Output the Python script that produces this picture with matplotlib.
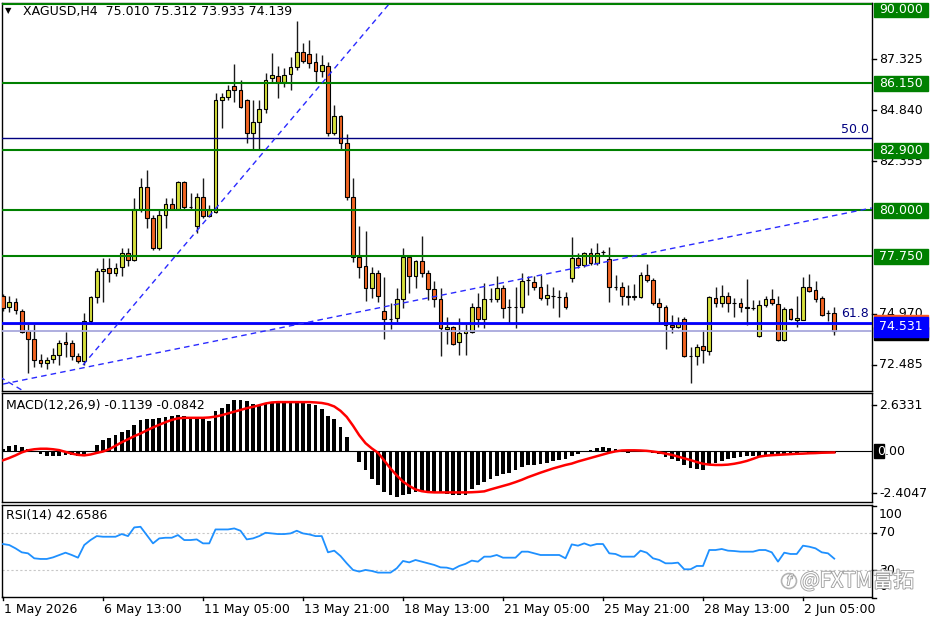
import numpy as np
import matplotlib
matplotlib.use("Agg")
import matplotlib.pyplot as plt
from matplotlib.patches import Rectangle, Ellipse
import matplotlib.patheffects as pe

# ---------------------------------------------------------------------------
# XAGUSD H4 candles
# ---------------------------------------------------------------------------
opens = [75.825, 75.291, 75.534, 75.097, 74.126, 73.738, 72.718, 72.573, 72.767, 72.961,
         73.592, 73.544, 72.913, 72.670, 74.611, 75.777, 77.039, 77.184, 76.942, 77.233,
         77.912, 77.573, 80.048, 81.116, 79.611, 78.155, 79.757, 80.291, 80.048, 81.359,
         80.145, 79.223, 80.631, 79.708, 79.903, 85.340, 85.485, 86.019, 85.825, 85.340,
         83.738, 84.272, 84.903, 86.408, 86.505, 86.213, 86.602, 86.942, 87.670, 87.573,
         87.184, 86.747, 86.990, 83.738, 84.563, 83.252, 80.631, 77.718, 77.282, 76.213,
         76.942, 75.097, 74.709, 74.757, 75.680, 77.718, 76.796, 77.524, 76.942, 76.165,
         75.680, 74.223, 74.320, 73.592, 74.029, 74.078, 75.291, 74.709, 75.680, 75.680,
         76.213, 75.291, 75.270, 75.291, 76.602, 76.505, 76.262, 75.728, 75.825, 75.800,
         75.777, 76.699, 77.670, 77.330, 77.912, 77.427, 77.961, 77.621, 76.262, 76.262,
         75.825, 75.800, 75.777, 76.845, 76.602, 75.485, 75.291, 74.417, 74.320, 74.709,
         72.913, 72.913, 73.398, 73.155, 75.728, 75.485, 75.825, 75.485, 75.485, 75.291,
         75.243, 73.883, 75.388, 75.680, 75.437, 73.689, 75.194, 74.660, 74.660, 76.262,
         76.116, 75.728, 75.000, 75.010]

highs = [75.922, 75.825, 75.728, 75.194, 74.514, 74.514, 73.010, 72.864, 73.301, 73.689,
         74.078, 73.689, 73.058, 75.000, 75.825, 77.184, 77.670, 77.670, 77.427, 78.155,
         78.155, 80.582, 81.553, 81.941, 79.757, 80.000, 80.582, 80.582, 81.407, 81.407,
         80.825, 80.825, 81.553, 80.243, 85.680, 85.680, 86.068, 87.087, 86.311, 85.388,
         85.340, 85.340, 86.650, 87.621, 86.990, 86.893, 87.427, 89.175, 88.107, 88.252,
         87.621, 87.524, 87.184, 85.097, 84.612, 83.689, 81.553, 79.223, 78.980, 77.233,
         77.087, 76.748, 75.485, 76.213, 78.155, 77.767, 77.573, 78.737, 77.087, 76.553,
         76.213, 74.806, 74.369, 74.757, 74.514, 75.485, 75.971, 76.456, 76.213, 76.796,
         76.359, 75.680, 76.262, 76.942, 76.796, 76.796, 76.845, 76.408, 76.262, 76.116,
         76.019, 78.689, 77.912, 77.961, 78.155, 78.398, 78.058, 78.204, 76.845, 76.505,
         76.359, 76.408, 76.990, 77.379, 76.699, 75.728, 75.388, 74.903, 74.806, 74.806,
         73.349, 73.495, 74.175, 75.825, 76.262, 76.359, 76.019, 75.728, 75.728, 76.650,
         75.631, 75.631, 75.825, 76.165, 75.825, 75.291, 75.243, 75.825, 76.748, 76.893,
         76.553, 75.825, 75.146, 75.312]

lows = [75.097, 75.049, 74.951, 74.029, 72.087, 72.378, 72.378, 72.281, 72.573, 72.476,
        72.864, 72.718, 72.573, 72.476, 74.514, 75.485, 75.534, 76.505, 76.796, 76.796,
        77.282, 77.524, 79.903, 79.126, 78.058, 78.058, 79.126, 80.000, 80.000, 80.000,
        80.048, 78.883, 79.611, 79.660, 79.854, 83.980, 85.340, 85.243, 84.951, 83.252,
        82.912, 82.912, 84.709, 86.213, 85.437, 85.971, 85.825, 86.796, 87.136, 86.893,
        86.165, 86.456, 83.592, 83.641, 82.912, 80.485, 77.476, 76.699, 75.583, 75.728,
        75.534, 73.738, 74.223, 74.563, 75.243, 75.971, 76.213, 76.748, 75.631, 75.291,
        72.913, 73.495, 73.447, 72.961, 72.961, 74.029, 74.320, 74.272, 75.534, 75.534,
        74.757, 74.514, 74.272, 75.000, 75.874, 76.116, 75.631, 75.388, 75.243, 74.806,
        75.194, 76.505, 77.184, 77.233, 77.330, 77.330, 77.815, 75.534, 76.116, 75.388,
        75.388, 75.631, 75.728, 76.505, 75.388, 74.563, 73.252, 74.029, 74.272, 72.864,
        71.602, 72.476, 72.573, 72.961, 75.291, 75.291, 75.049, 74.806, 75.049, 74.417,
        75.146, 73.835, 75.291, 75.388, 73.641, 73.641, 74.660, 74.320, 74.640, 76.019,
        75.534, 74.854, 74.611, 73.933]

closes = [75.243, 75.534, 75.146, 74.078, 73.738, 72.718, 72.573, 72.718, 72.961, 73.544,
          73.495, 72.913, 72.670, 74.611, 75.777, 77.039, 77.136, 76.942, 77.184, 77.912,
          77.573, 80.048, 81.116, 79.611, 78.155, 79.757, 80.291, 80.048, 81.359, 80.145,
          80.170, 80.631, 79.708, 80.000, 85.340, 85.485, 85.825, 85.825, 84.999, 83.738,
          84.272, 84.903, 86.311, 86.553, 86.213, 86.553, 86.942, 87.670, 87.233, 87.136,
          86.747, 87.039, 83.738, 84.563, 83.252, 80.631, 77.718, 77.233, 76.213, 76.942,
          75.825, 74.709, 74.730, 75.680, 77.718, 76.796, 77.524, 76.942, 76.165, 75.680,
          74.272, 74.320, 73.495, 74.029, 74.126, 75.291, 74.709, 75.680, 75.700, 76.213,
          75.243, 75.270, 75.291, 76.553, 76.580, 76.262, 75.728, 75.874, 75.840, 75.777,
          75.291, 77.670, 77.330, 77.912, 77.427, 77.912, 77.940, 76.262, 76.240, 75.825,
          75.800, 75.825, 76.845, 76.602, 75.485, 75.291, 74.417, 74.320, 74.466, 72.913,
          72.900, 73.349, 73.204, 75.777, 75.485, 75.825, 75.485, 75.470, 75.291, 75.243,
          75.260, 75.388, 75.680, 75.485, 73.689, 75.194, 74.709, 74.757, 76.262, 76.068,
          75.680, 74.903, 75.010, 74.139]

# MACD(12,26,9): main line drawn as histogram, signal as red line
macd_main = [0.13, 0.29, 0.32, 0.23, 0.13, -0.05, -0.19, -0.29, -0.29, -0.29,
             -0.21, -0.25, -0.31, -0.19, 0.00, 0.32, 0.61, 0.74, 0.90, 1.09,
             1.22, 1.47, 1.75, 1.85, 1.85, 1.91, 1.95, 1.98, 2.04, 1.98,
             1.91, 1.91, 1.85, 1.72, 2.27, 2.46, 2.71, 2.90, 2.94, 2.84,
             2.71, 2.61, 2.75, 2.80, 2.77, 2.77, 2.77, 2.80, 2.77, 2.71,
             2.61, 2.42, 1.98, 1.85, 1.37, 0.80, 0.02, -0.63, -1.11, -1.58,
             -1.93, -2.35, -2.54, -2.63, -2.50, -2.44, -2.35, -2.35, -2.35, -2.35,
             -2.39, -2.44, -2.50, -2.50, -2.50, -2.16, -1.97, -1.78, -1.58, -1.43,
             -1.30, -1.24, -1.11, -0.92, -0.82, -0.78, -0.73, -0.67, -0.59, -0.53,
             -0.44, -0.29, -0.19, -0.06, 0.08, 0.17, 0.25, 0.17, 0.10, 0.04,
             -0.11, -0.06, -0.02, 0.00, -0.10, -0.15, -0.34, -0.48, -0.59, -0.82,
             -0.97, -1.05, -1.11, -0.82, -0.67, -0.59, -0.48, -0.40, -0.34, -0.29,
             -0.29, -0.31, -0.21, -0.19, -0.15, -0.15, -0.15, -0.11, -0.06, -0.10,
             -0.10, -0.11, -0.11, -0.1139]

macd_signal = [-0.53, -0.40, -0.25, -0.08, 0.04, 0.10, 0.13, 0.13, 0.10, 0.05,
               -0.05, -0.15, -0.22, -0.25, -0.20, -0.11, -0.03, 0.10, 0.30, 0.50,
               0.67, 0.85, 1.00, 1.18, 1.35, 1.50, 1.65, 1.78, 1.87, 1.90,
               1.90, 1.90, 1.90, 1.92, 1.97, 2.05, 2.15, 2.25, 2.35, 2.45,
               2.53, 2.62, 2.72, 2.78, 2.80, 2.80, 2.80, 2.80, 2.80, 2.80,
               2.78, 2.75, 2.68, 2.55, 2.30, 1.95, 1.45, 0.90, 0.45, 0.15,
               -0.10, -0.55, -1.00, -1.40, -1.75, -2.00, -2.20, -2.30, -2.35, -2.37,
               -2.37, -2.37, -2.37, -2.37, -2.37, -2.36, -2.34, -2.31, -2.20, -2.10,
               -2.00, -1.90, -1.78, -1.65, -1.50, -1.37, -1.24, -1.12, -1.00, -0.90,
               -0.80, -0.72, -0.60, -0.50, -0.40, -0.30, -0.20, -0.10, -0.02, 0.03,
               0.04, 0.04, 0.03, 0.01, -0.03, -0.08, -0.15, -0.22, -0.32, -0.42,
               -0.52, -0.63, -0.73, -0.78, -0.80, -0.80, -0.78, -0.73, -0.66, -0.57,
               -0.45, -0.32, -0.27, -0.24, -0.22, -0.20, -0.18, -0.16, -0.15, -0.13,
               -0.12, -0.10, -0.09, -0.0842]

rsi = [58.5, 57.4, 53.8, 49.5, 48.4, 43.0, 42.3, 42.3, 44.0, 46.6,
       49.1, 46.6, 43.7, 57.4, 62.8, 67.1, 66.4, 66.4, 66.4, 69.3,
       67.1, 76.5, 77.2, 68.2, 59.2, 64.6, 65.3, 65.3, 68.2, 62.8,
       62.8, 63.5, 59.2, 59.2, 74.3, 74.3, 74.3, 75.4, 72.9, 63.5,
       64.6, 67.1, 70.7, 70.0, 69.3, 69.3, 70.0, 72.9, 70.0, 68.9,
       67.1, 67.1, 49.5, 51.3, 45.5, 37.6, 30.4, 28.6, 30.4, 29.3,
       27.5, 27.5, 27.5, 32.2, 40.1, 38.6, 41.2, 39.4, 37.6, 35.8,
       33.2, 32.9, 31.1, 34.7, 37.0, 40.5, 39.4, 44.8, 44.8, 46.6,
       43.7, 43.7, 43.7, 50.2, 50.2, 48.4, 46.6, 46.6, 46.6, 46.6,
       43.0, 58.1, 56.7, 59.2, 56.7, 58.5, 58.5, 48.4, 47.7, 44.8,
       44.8, 44.8, 51.3, 49.1, 43.0, 41.2, 37.6, 37.6, 38.3, 31.1,
       31.1, 34.7, 34.7, 52.0, 52.0, 53.1, 51.3, 50.9, 50.2, 50.2,
       50.2, 52.0, 52.0, 49.5, 39.4, 49.1, 47.7, 47.7, 56.7, 55.6,
       53.8, 49.5, 48.4, 42.6586]

time_labels = ["1 May 2026", "6 May 13:00", "11 May 05:00", "13 May 21:00", "18 May 13:00",
               "21 May 05:00", "25 May 21:00", "28 May 13:00", "2 Jun 05:00"]
time_label_bars = [0, 16, 32, 48, 64, 80, 96, 112, 128]

green_levels = [90.000, 86.150, 82.900, 80.000, 77.750]
fib_50 = 83.495
fib_618 = 74.531
bid = 74.139
price_ticks = [87.325, 84.840, 82.355, 74.970, 72.485]

# trendlines (bar index, price)
trend_low_x, trend_low_y = [0, 139], [71.55, 80.10]
trend_steep_x, trend_steep_y = [12.8, 63.0], [72.476, 90.44]
trend_short_x, trend_short_y = [-0.5, 3.0], [71.893, 71.262]

rsi_levels = [70, 30]
macd_ticks = [2.6331, -2.4047]

# ---------------------------------------------------------------------------
W, H = 936, 624
plt.rcParams['font.family'] = ['DejaVu Sans']
fig = plt.figure(figsize=(W / 100, H / 100), dpi=100)


def box(x0, y0, x1, y1):
    return [x0 / W, 1 - y1 / H, (x1 - x0) / W, (y1 - y0) / H]


L, R = 2, 872
ax = fig.add_axes(box(L, 3, R, 391))
ax_m = fig.add_axes(box(L, 393, R, 502))
ax_r = fig.add_axes(box(L, 505, R, 597))


def xf(px):
    # pixel x -> axes fraction
    return (px - L) / (R - L)


n = len(closes)
idx = np.arange(n)
for a in (ax, ax_m, ax_r):
    a.set_xlim(-0.16, 139.04)
    a.set_yticks([])
    a.set_xticks([])
    for s in a.spines.values():
        s.set_color("black")
        s.set_linewidth(1)

FS = 9

# ---- price window ----
PPX = 20.6  # pixels per price unit
YTOP = 90.049
ax.set_ylim(71.214, YTOP)
o, h, l, c = map(np.array, (opens, highs, lows, closes))
up = c >= o
ax.vlines(idx, l, h, color="#1a1a1a", lw=1, zorder=3)
ax.bar(idx, np.maximum(np.abs(c - o), 0.02), bottom=np.minimum(o, c), width=0.58,
       color=np.where(up, "#d6e03c", "#f26522"), edgecolor="black", linewidth=0.8, zorder=4)

for lv in green_levels:
    ax.axhline(lv, color="#008000", lw=1.5, zorder=5)
ax.axhline(fib_50, color="#000080", lw=1, zorder=5)
ax.axhline(74.447, color="#ff8040", lw=0.8, zorder=5)
ax.axhline(bid, color="#a8a8dc", lw=1.3, zorder=5)
ax.axhline(fib_618, color="#0000ff", lw=2, zorder=6)

dash = (0, (4, 3))
for tx, ty in ((trend_low_x, trend_low_y), (trend_steep_x, trend_steep_y),
               (trend_short_x, trend_short_y)):
    ax.plot(tx, ty, color="#2a2aff", lw=1, ls=dash, zorder=6)

ax.text(xf(869), fib_50 + 9 / PPX, "50.0", color="#000080", fontsize=FS,
        ha="right", va="center", transform=ax.get_yaxis_transform())
ax.text(xf(869), fib_618 + 9 / PPX, "61.8", color="#000080", fontsize=FS,
        ha="right", va="center", transform=ax.get_yaxis_transform())

ty = ax.get_yaxis_transform()
for pt in price_ticks:
    ax.text(xf(879), pt, f"{pt:.3f}", fontsize=FS, va="center", transform=ty,
            clip_on=False, zorder=3)
    ax.plot([xf(872), xf(876)], [pt, pt], color="black", lw=1, transform=ty, clip_on=False)

half = 7.5 / PPX
for lv in green_levels:
    # labels at the very top are pushed down so they stay inside the window
    yc = min(lv, YTOP - 7 / PPX)
    ax.add_patch(Rectangle((xf(874), yc - half), xf(928) - xf(874), 2 * half,
                           transform=ty, color="#008000", clip_on=False, zorder=8))
    ax.text(xf(879), yc, f"{lv:.3f}", color="white", fontsize=FS, va="center",
            transform=ty, clip_on=False, zorder=9)

# current price / fib label stack
ax.add_patch(Rectangle((xf(874), bid - 9.5 / PPX), xf(928) - xf(874), 13 / PPX,
                       transform=ty, color="black", clip_on=False, zorder=8))
ax.add_patch(Rectangle((xf(874), fib_618 - 6 / PPX), xf(928) - xf(874), 14 / PPX,
                       transform=ty, color="#ff5a1e", clip_on=False, zorder=8))
ax.add_patch(Rectangle((xf(874), fib_618 - 14 / PPX), xf(928) - xf(874), 19.5 / PPX,
                       transform=ty, color="#0000ff", clip_on=False, zorder=9))
ax.text(xf(879), fib_618 - 4 / PPX, f"{fib_618:.3f}", color="white", fontsize=FS,
        va="center", transform=ty, clip_on=False, zorder=10)

fig.text(8 / W, 1 - 11 / H, "\u25bc", fontsize=6, ha="center", va="center")
fig.text(23 / W, 1 - 12 / H, "XAGUSD,H4  75.010 75.312 73.933 74.139", fontsize=FS, va="center")

# ---- MACD window ----
ax_m.set_ylim(-2.919, 3.320)
ax_m.axhline(0, color="black", lw=0.8, zorder=1)
ax_m.bar(idx, macd_main, width=0.62, color="black", zorder=2)
ax_m.plot(idx, macd_signal, color="#ff0000", lw=1.8, zorder=3)
tm = ax_m.get_yaxis_transform()
for v in macd_ticks:
    ax_m.text(xf(879), v, f"{v:.4f}", fontsize=FS, va="center", transform=tm, clip_on=False)
    ax_m.plot([xf(872), xf(876)], [v, v], color="black", lw=1, transform=tm, clip_on=False)
ax_m.text(xf(877), 0, "0.00", fontsize=FS, va="center", transform=tm, clip_on=False)
ax_m.add_patch(Rectangle((xf(874), -0.38), xf(884) - xf(874), 0.76, transform=tm,
                         color="black", clip_on=False, zorder=4))
ax_m.text(xf(877), 0, "0", fontsize=FS, va="center", color="white", transform=tm,
          clip_on=False, zorder=5)
fig.text(6 / W, 1 - 405 / H, "MACD(12,26,9) -0.1139 -0.0842", fontsize=FS, va="center")

# ---- RSI window ----
ax_r.set_ylim(1.06, 100.8)
for lv in rsi_levels:
    ax_r.axhline(lv, color="#c8c8c8", lw=0.8, ls=(0, (2, 2)), zorder=1)
ax_r.plot(idx, rsi, color="#1e90ff", lw=1.3, zorder=3)
tr = ax_r.get_yaxis_transform()
for lbl, ypx in (("100", 515), ("70", 533), ("30", 570), ("0", 587)):
    fig.text(879 / W, 1 - ypx / H, lbl, fontsize=FS, va="center")
for lv in (100, 70, 30, 0):
    ax_r.plot([xf(872), xf(876)], [lv, lv], color="black", lw=1, transform=tr, clip_on=False)
fig.text(6 / W, 1 - 516 / H, "RSI(14) 42.6586", fontsize=FS, va="center")

tx = ax_r.get_xaxis_transform()
for b, lbl in zip(time_label_bars, time_labels):
    ax_r.plot([b, b], [0, -3 / 92], color="black", lw=1, transform=tx, clip_on=False)
    ax_r.text(b + 0.1, -13 / 92, lbl, fontsize=FS, ha="left", va="center",
              transform=tx, clip_on=False)

# watermark: ring logo + text
halo = [pe.withStroke(linewidth=1.3, foreground="#a0a0a0")]
fig.add_artist(Ellipse((789 / W, 1 - 581 / H), 15 / W, 15 / H, transform=fig.transFigure,
                       fill=False, ec="#b4b4b4", lw=1.2))
fig.text(789 / W, 1 - 581 / H, "f", fontsize=10, ha="center", va="center", style="italic",
         color="white", path_effects=halo)
fig.text(800 / W, 1 - 581 / H, "@FXTM富拓", fontsize=15, va="center",
         family=["Noto Sans CJK SC", "DejaVu Sans"], color="white", path_effects=halo)

fig.savefig("out.png", dpi=100)
